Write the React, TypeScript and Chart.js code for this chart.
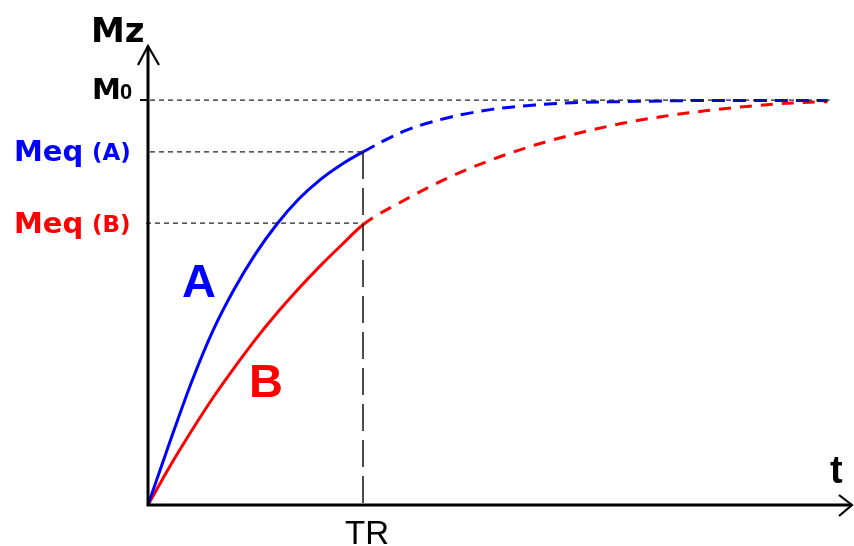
import React, { useEffect, useRef } from "react";
import { Chart, registerables } from "chart.js";

Chart.register(...registerables);

// time samples (TR = 10 units)
const T = [0, 1, 2, 3, 4, 5, 6, 7, 8, 9, 10, 12, 14, 16, 18, 20, 22, 24, 26, 28, 30, 31.6];
// Mz / M0 for tissue A (blue) and B (red)
const curveA = [0, 0.153, 0.3, 0.428, 0.532, 0.62, 0.694, 0.755, 0.803, 0.841, 0.872, 0.925, 0.957, 0.977, 0.988, 0.994, 0.996, 0.998, 0.999, 0.999, 0.999, 0.999];
const curveB = [0, 0.094, 0.181, 0.263, 0.338, 0.409, 0.474, 0.534, 0.59, 0.642, 0.692, 0.755, 0.809, 0.853, 0.889, 0.918, 0.942, 0.96, 0.974, 0.985, 0.993, 0.996];
const TR = 10;
const M0 = 1;
const MEQ_A = 0.872;
const MEQ_B = 0.696;
const X_MAX = 32.65;
const Y_MAX = 1.136;
const M0_LINE_END = 31.7;

const BLUE = "#0000ff";
const RED = "#ff0000";
const FONT = '"Liberation Sans", Arial, sans-serif';
const WIDE = '"DejaVu Sans", Verdana, sans-serif';

const overlay = {
  id: "overlay",
  afterDatasetsDraw(chart: any) {
    const ctx = chart.ctx;
    const xs = chart.scales.x;
    const ys = chart.scales.y;
    const x0 = xs.getPixelForValue(0);
    const y0 = ys.getPixelForValue(0);
    const xTR = xs.getPixelForValue(TR);
    const yM0 = ys.getPixelForValue(M0);
    const yA = ys.getPixelForValue(MEQ_A);
    const yB = ys.getPixelForValue(MEQ_B);
    const top = chart.chartArea.top;
    const right = chart.chartArea.right;

    ctx.save();
    // reference dashed lines
    ctx.strokeStyle = "#222";
    ctx.lineWidth = 1.3;
    ctx.setLineDash([5, 4]);
    ctx.beginPath();
    ctx.moveTo(x0 + 2, yM0);
    ctx.lineTo(xs.getPixelForValue(M0_LINE_END), yM0);
    ctx.moveTo(x0 + 2, yA);
    ctx.lineTo(xTR, yA);
    ctx.moveTo(x0 - 2, yB);
    ctx.lineTo(xTR, yB);
    ctx.stroke();
    // TR vertical
    ctx.strokeStyle = "#111";
    ctx.setLineDash([27, 9]);
    ctx.lineWidth = 1.5;
    ctx.beginPath();
    ctx.moveTo(xTR, yA);
    ctx.lineTo(xTR, y0);
    ctx.stroke();
    ctx.setLineDash([]);

    // axes
    ctx.strokeStyle = "#000";
    ctx.lineWidth = 3;
    ctx.beginPath();
    ctx.moveTo(x0, y0 + 1.5);
    ctx.lineTo(x0, top + 1);
    ctx.moveTo(x0 - 1.5, y0);
    ctx.lineTo(right + 2, y0);
    ctx.stroke();
    // arrows
    ctx.lineWidth = 2.2;
    ctx.beginPath();
    ctx.moveTo(x0 - 10, top + 20);
    ctx.lineTo(x0, top + 1);
    ctx.lineTo(x0 + 11, top + 20);
    ctx.moveTo(right - 11, y0 - 10);
    ctx.lineTo(right + 2, y0);
    ctx.lineTo(right - 11, y0 + 11);
    ctx.stroke();
    // M0 tick
    ctx.lineWidth = 2;
    ctx.beginPath();
    ctx.moveTo(x0 - 8, yM0);
    ctx.lineTo(x0, yM0);
    ctx.stroke();

    // texts
    ctx.textBaseline = "alphabetic";
    ctx.textAlign = "left";
    ctx.fillStyle = "#000";
    ctx.font = `bold 34px ${WIDE}`;
    ctx.fillText("Mz", 91, 42);
    ctx.font = `bold 29px ${WIDE}`;
    ctx.fillText("M", 92, yM0 - 1);
    ctx.font = `bold 22px ${FONT}`;
    ctx.fillText("0", 120, yM0 - 1);

    ctx.fillStyle = BLUE;
    ctx.font = `bold 29px ${WIDE}`;
    ctx.fillText("Meq", 14, yA + 9);
    ctx.font = `bold 23px ${WIDE}`;
    ctx.fillText("(A)", 92, yA + 8);
    ctx.fillStyle = RED;
    ctx.font = `bold 29px ${WIDE}`;
    ctx.fillText("Meq", 14, yB + 10);
    ctx.font = `bold 23px ${WIDE}`;
    ctx.fillText("(B)", 92, yB + 9);

    ctx.font = `bold 47px ${FONT}`;
    ctx.fillStyle = BLUE;
    ctx.fillText("A", 182, 297);
    ctx.fillStyle = RED;
    ctx.fillText("B", 249, 397);

    ctx.fillStyle = "#000";
    ctx.font = `bold 38px ${FONT}`;
    ctx.fillText("t", 830, 483);
    ctx.font = `33px ${FONT}`;
    ctx.textAlign = "center";
    ctx.fillText("TR", xTR + 4, y0 + 39);
    ctx.restore();
  },
};

export default function App() {
  const ref = useRef<HTMLCanvasElement | null>(null);
  useEffect(() => {
    if (!ref.current) return;
    const dash = (pattern: number[]) => (c: any) => (c.p0.parsed.x >= TR ? pattern : undefined);
    const chart = new Chart(ref.current, {
      type: "line",
      data: {
        datasets: [
          {
            label: "A",
            data: T.map((t, i) => ({ x: t, y: curveA[i] })),
            borderColor: BLUE,
            borderWidth: 3,
            pointRadius: 0,
            cubicInterpolationMode: "monotone",
            clip: false as any,
            segment: { borderDash: dash([13, 8]) },
          },
          {
            label: "B",
            data: T.map((t, i) => ({ x: t, y: curveB[i] })),
            borderColor: RED,
            borderWidth: 3,
            pointRadius: 0,
            cubicInterpolationMode: "monotone",
            clip: false as any,
            segment: { borderDash: dash([12, 9]) },
          },
        ],
      },
      options: {
        animation: false,
        responsive: false,
        devicePixelRatio: 1,
        layout: { padding: { left: 148, right: 4, top: 45, bottom: 41 } },
        scales: {
          x: { type: "linear", min: 0, max: X_MAX, display: false },
          y: { type: "linear", min: 0, max: Y_MAX, display: false },
        },
        plugins: { legend: { display: false }, tooltip: { enabled: false } },
      },
      plugins: [overlay],
    });
    return () => chart.destroy();
  }, []);
  return (
    <div style={{ position: "fixed", left: 0, top: 0, width: 854, height: 546, background: "#fff" }}>
      <canvas ref={ref} width={854} height={546} />
    </div>
  );
}
